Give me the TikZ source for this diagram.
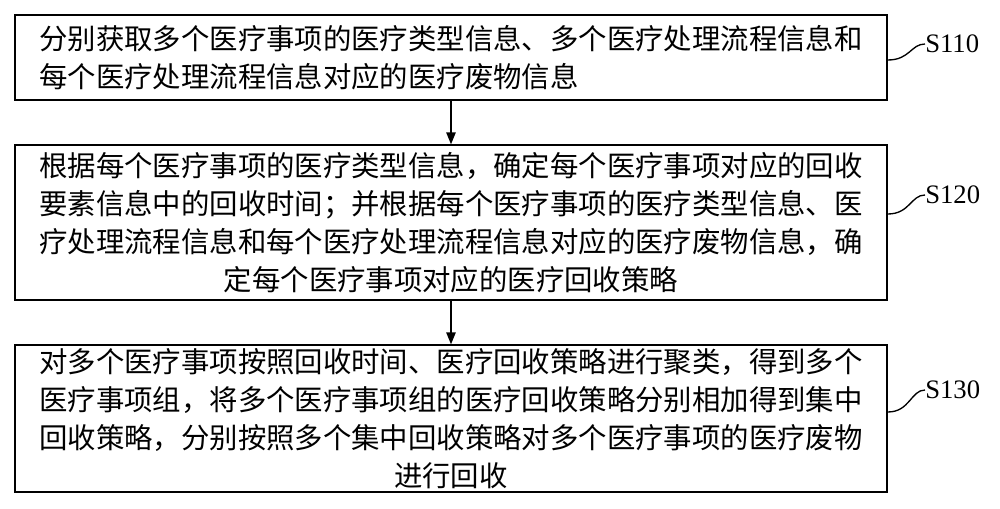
\documentclass[tikz,border=0pt]{standalone}
\usepackage{fontspec}
\setmainfont{Liberation Serif}
\newfontfamily\cjk{Noto Sans CJK SC}
\usetikzlibrary{arrows.meta}
\tikzset{
  stepbox/.style={draw, line width=1.2pt, minimum width=654pt, inner sep=0pt,
    font=\cjk\fontsize{21.3}{28.5}\selectfont},
  steplabel/.style={font=\fontsize{20}{22}\selectfont, anchor=west, inner sep=0pt},
  flow/.style={-{Triangle[length=9pt,width=7pt]}, line width=1.2pt},
  leader/.style={line width=1pt}
}
\begin{document}
\begin{tikzpicture}[x=0.75pt, y=-0.75pt]
\useasboundingbox (0,0) rectangle (1000,509);

% Schritte
\node[stepbox, minimum height=64pt, align=left] (s1) at (451,57.5)
  {分别获取多个医疗事项的医疗类型信息、多个医疗处理流程信息和\\
   每个医疗处理流程信息对应的医疗废物信息};
\node[stepbox, minimum height=116pt, align=center] (s2) at (451,222.5)
  {根据每个医疗事项的医疗类型信息，确定每个医疗事项对应的回收\\
   要素信息中的回收时间；并根据每个医疗事项的医疗类型信息、医\\
   疗处理流程信息和每个医疗处理流程信息对应的医疗废物信息，确\\
   定每个医疗事项对应的医疗回收策略};
\node[stepbox, minimum height=110pt, align=center] (s3) at (451,418.5)
  {对多个医疗事项按照回收时间、医疗回收策略进行聚类，得到多个\\
   医疗事项组，将多个医疗事项组的医疗回收策略分别相加得到集中\\
   回收策略，分别按照多个集中回收策略对多个医疗事项的医疗废物\\
   进行回收};

\draw[flow] (s1) -- (s2);
\draw[flow] (s2) -- (s3);

% Bezeichnungen
\node[steplabel] (l1) at (925,44) {S110};
\node[steplabel] (l2) at (925,195) {S120};
\node[steplabel] (l3) at (925,390) {S130};
\draw[leader] (s1.east |- 0,60) .. controls +(22,0) and +(-14,0) .. (l1.west);
\draw[leader] (s2.east |- 0,214) .. controls +(22,0) and +(-14,0) .. (l2.west);
\draw[leader] (s3.east |- 0,412) .. controls +(22,0) and +(-14,0) .. (l3.west);
\end{tikzpicture}
\end{document}
